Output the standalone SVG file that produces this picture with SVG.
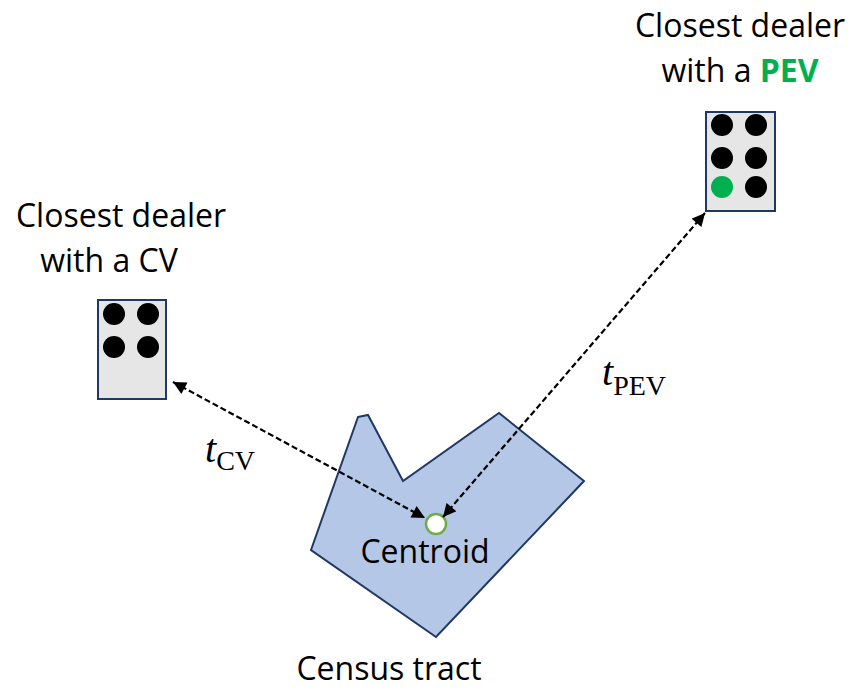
<svg xmlns="http://www.w3.org/2000/svg" width="856" height="697" viewBox="0 0 856 697">
<style>
.lbl{font-family:"Open Sans","Liberation Sans",sans-serif;font-size:32px;fill:#000;text-anchor:middle}
.box{fill:#E6E6E6;stroke:#1F3864;stroke-width:2}
.dot{fill:#000}
.conn{fill:none;stroke:#000;stroke-width:2.2;stroke-dasharray:6 3}
.math{font-family:"Liberation Serif","DejaVu Serif",serif;fill:#000}
</style>
<defs>
<marker id="ah" viewBox="0 0 10 10" refX="10" refY="5" markerWidth="14" markerHeight="13" markerUnits="userSpaceOnUse" orient="auto-start-reverse">
<path d="M0,0 L10,5 L0,10 z" fill="#000"/>
</marker>
</defs>
<rect width="856" height="697" fill="#fff"/>
<g id="tract">
<polygon points="358,417 368,415 403,481 499,413 584,481 436,637 311,550" fill="#B4C7E7" stroke="#1F3864" stroke-width="2"/>
<text class="lbl" x="389" y="680">Census tract</text>
</g>
<g id="centroid">
<circle cx="436" cy="524" r="10" fill="#fff" stroke="#70AD47" stroke-width="2.5"/>
<text class="lbl" x="425" y="563">Centroid</text>
</g>
<g id="dealer-cv">
<rect class="box" x="98" y="300" width="68" height="99"/>
<circle class="dot" cx="114" cy="314" r="11"/>
<circle class="dot" cx="148" cy="314" r="11"/>
<circle class="dot" cx="114" cy="347" r="11"/>
<circle class="dot" cx="148" cy="347" r="11"/>
<text class="lbl" x="121" y="227">Closest dealer</text>
<text class="lbl" x="109" y="272">with a CV</text>
</g>
<g id="dealer-pev">
<rect class="box" x="706" y="112" width="69" height="99"/>
<circle class="dot" cx="722" cy="125" r="11"/>
<circle class="dot" cx="756" cy="125" r="11"/>
<circle class="dot" cx="722" cy="158" r="11"/>
<circle class="dot" cx="756" cy="158" r="11"/>
<circle cx="722" cy="187" r="11" fill="#00B050"/>
<circle class="dot" cx="756" cy="187" r="11"/>
<text class="lbl" x="740" y="37">Closest dealer</text>
<text class="lbl" x="740" y="82">with a <tspan font-weight="bold" fill="#00B050">PEV</tspan></text>
</g>
<g id="connectors">
<line class="conn" x1="173" y1="382" x2="425" y2="518" marker-start="url(#ah)" marker-end="url(#ah)"/>
<line class="conn" x1="705" y1="213" x2="443" y2="517" marker-start="url(#ah)" marker-end="url(#ah)"/>
<text class="math" x="205" y="462"><tspan font-style="italic" font-size="40">t</tspan><tspan font-size="28" dy="8">CV</tspan></text>
<text class="math" x="602" y="385"><tspan font-style="italic" font-size="40">t</tspan><tspan font-size="28" dy="10">PEV</tspan></text>
</g>
</svg>
